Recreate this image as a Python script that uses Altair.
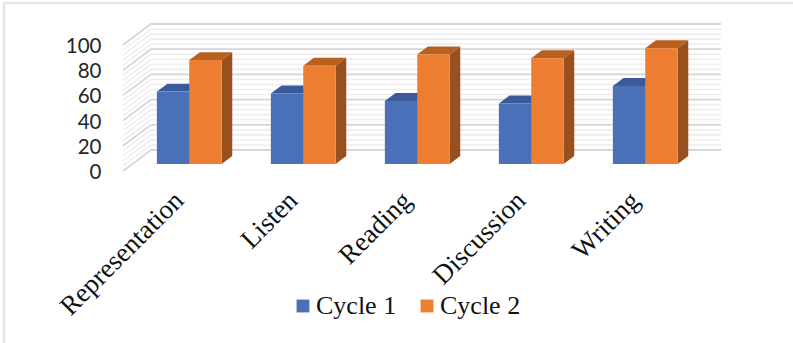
import altair as alt
import pandas as pd

# Survey scores per activity for the two teaching cycles
categories = ["Representation", "Listen", "Reading", "Discussion", "Writing"]
cycle_1 = [57.5, 56, 50, 48, 62]
cycle_2 = [82.5, 78, 87, 84, 92]
series_names = ["Cycle 1", "Cycle 2"]
major_ticks = [0, 20, 40, 60, 80, 100]
minor_ticks = [v for v in range(0, 101, 4) if v % 20]

front_colors = ["#4a70b8", "#ed7d31"]
top_colors = ["#3b5a9a", "#b8611f"]
side_colors = ["#34507f", "#98511e"]

# Oblique projection of the 3D box: depth 0 is the front edge, depth 1 the back wall
DEPTH_X = 28 / 114   # category units
DEPTH_Y = 21 / 1.26  # value units
BAR_NEAR, BAR_FAR = 0.33, 0.71
BAR_HALF = 0.284
n = len(categories)


def project(cat, depth, value):
    return cat + DEPTH_X * depth, value + DEPTH_Y * depth


front_rows, top_rows, side_rows, grid_rows = [], [], [], []
for i, cat in enumerate(categories):
    for s, values in enumerate([cycle_1, cycle_2]):
        value = values[i]
        left = i + 0.5 + (s - 1) * BAR_HALF
        right = left + BAR_HALF
        xa, y_front = project(left, BAR_NEAR, value)
        xb, y_base = project(right, BAR_NEAR, 0)
        front_rows.append({"x": xa, "x2": xb, "y": y_front, "y2": y_base, "series": series_names[s]})

        face = f"{cat}-{s}"
        xa2, y_back = project(left, BAR_FAR, value)
        xb2, _ = project(right, BAR_FAR, value)
        for px, lo, hi in [(xa, y_front, y_front), (xa2, y_front, y_back),
                           (xb, y_front, y_back), (xb2, y_back, y_back)]:
            top_rows.append({"x": px, "y": lo, "y2": hi, "face": face, "fill": top_colors[s]})

        _, y_base_back = project(right, BAR_FAR, 0)
        side_rows.append({"x": xb, "y": y_base, "y2": y_front, "face": face, "fill": side_colors[s]})
        side_rows.append({"x": xb2, "y": y_base_back, "y2": y_back, "face": face, "fill": side_colors[s]})

for kind, ticks in [("minor", minor_ticks), ("major", major_ticks)]:
    for v in ticks:
        for cat, depth in [(0, 0), (0, 1), (n, 1)]:
            px, py = project(cat, depth, v)
            grid_rows.append({"x": px, "y": py, "tick": v, "kind": kind})

names_expr = "[" + ",".join(f"'{c}'" for c in categories) + "][floor(datum.value)]"

x_axis = alt.Axis(
    title=None, grid=False, domain=False, ticks=False,
    values=[i + 0.5 for i in range(n)], labelExpr=names_expr,
    labelAngle=-45, labelAlign="right", labelBaseline="middle",
    labelFont="Liberation Serif", labelFontSize=27, labelColor="#111111",
    labelPadding=25, labelOffset=-1, labelOverlap=False, labelBound=False, labelFlush=False)
y_axis = alt.Axis(
    title=None, grid=False, domain=False, ticks=False,
    values=major_ticks, labelFont="Lato", labelFontSize=20.5, labelColor="#262626",
    labelPadding=22, labelOffset=1.5, labelOverlap=False, labelBound=False, labelFlush=False)

x_scale = alt.Scale(domain=[0, n + DEPTH_X], nice=False, zero=False)
y_scale = alt.Scale(domain=[0, 100 + DEPTH_Y], nice=False, zero=False)
enc_x = alt.X("x:Q", scale=x_scale, axis=x_axis)
enc_y = alt.Y("y:Q", scale=y_scale, axis=y_axis, stack=None)

# Page frame along the top and left edges
frame = alt.layer(
    alt.Chart(pd.DataFrame({"a": [0]})).mark_rule(color="#e6e6e6", strokeWidth=2.5).encode(
        x=alt.value(-119), x2=alt.value(670), y=alt.value(-21)),
    alt.Chart(pd.DataFrame({"a": [0]})).mark_rule(color="#e6e6e6", strokeWidth=2.5).encode(
        x=alt.value(-119), y=alt.value(-22), y2=alt.value(319)),
)

grid_df = pd.DataFrame(grid_rows)
minor = alt.Chart(grid_df[grid_df.kind == "minor"]).mark_line(color="#eeeeee", strokeWidth=1.6).encode(
    x=enc_x, y=enc_y, detail="tick:N")
major = alt.Chart(grid_df[grid_df.kind == "major"]).mark_line(color="#d6d6d6", strokeWidth=1.8).encode(
    x=enc_x, y=enc_y, detail="tick:N")

tops = alt.Chart(pd.DataFrame(top_rows)).mark_area(orient="vertical", opacity=1).encode(
    x=enc_x, y=enc_y, y2="y2:Q",
    detail="face:N", color=alt.Color("fill:N", scale=None))
sides = alt.Chart(pd.DataFrame(side_rows)).mark_area(orient="vertical", opacity=1).encode(
    x=enc_x, y=enc_y, y2="y2:Q",
    detail="face:N", color=alt.Color("fill:N", scale=None))

fronts = alt.Chart(pd.DataFrame(front_rows)).mark_rect().encode(
    x=enc_x, x2="x2:Q", y=enc_y, y2="y2:Q",
    color=alt.Color("series:N", scale=alt.Scale(domain=series_names, range=front_colors),
                    legend=alt.Legend(
                        title=None, orient="none", legendX=167, legendY=269,
                        direction="horizontal", columns=2, columnPadding=17,
                        symbolType="square", symbolSize=165, symbolStrokeWidth=0,
                        labelFont="Liberation Serif", labelFontSize=26, labelColor="#111111",
                        labelOffset=0, rowPadding=0)),
)

chart = alt.layer(minor, major, tops, sides, fronts, frame).properties(
    width=598, height=147,
    padding={"left": 123, "top": 24, "right": 72, "bottom": 172},
    autosize=alt.AutoSizeParams(type="none"),
    background="white",
).configure_view(stroke=None)

chart.save("out.html", embed_options={"renderer": "svg", "actions": False})
